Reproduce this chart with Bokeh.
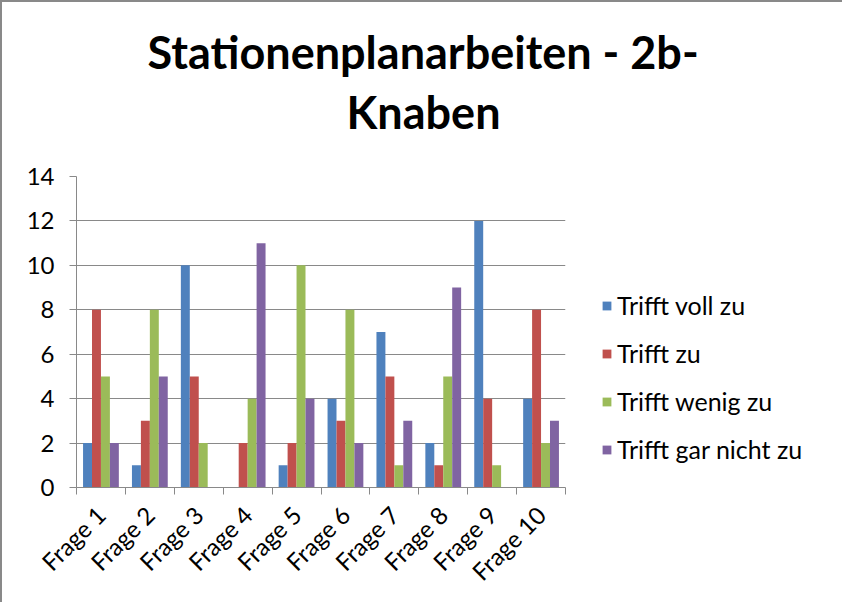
import numpy as np
from math import pi
from bokeh.plotting import figure
from bokeh.models import (Range1d, FixedTicker, Legend, LegendItem, Title,
                          ColumnDataSource)
from bokeh.transform import dodge
from bokeh.embed import file_html
from bokeh.resources import INLINE

# ---- data ----
categories = ["Frage 1", "Frage 2", "Frage 3", "Frage 4", "Frage 5",
              "Frage 6", "Frage 7", "Frage 8", "Frage 9", "Frage 10"]
series_names = ["Trifft voll zu", "Trifft zu", "Trifft wenig zu", "Trifft gar nicht zu"]
trifft_voll_zu = [2, 1, 10, 0, 1, 4, 7, 2, 12, 4]
trifft_zu = [8, 3, 5, 2, 2, 3, 5, 1, 4, 8]
trifft_wenig_zu = [5, 8, 2, 4, 10, 8, 1, 5, 1, 2]
trifft_gar_nicht_zu = [2, 5, 0, 11, 4, 2, 3, 9, 0, 3]
y_ticks = [0, 2, 4, 6, 8, 10, 12, 14]
title_line1 = "Stationenplanarbeiten - 2b-"
title_line2 = "Knaben"

colors = ["#4F81BD", "#C0504D", "#9BBB59", "#8064A2"]
FONT = "Lato"
GRAY = "#898989"

x = list(range(len(categories)))
src = ColumnDataSource(dict(x=x, s0=trifft_voll_zu, s1=trifft_zu,
                            s2=trifft_wenig_zu, s3=trifft_gar_nicht_zu))

p = figure(frame_width=489, frame_height=311, output_backend="svg",
           toolbar_location=None, title=None,
           x_range=Range1d(-0.5, len(categories) - 0.5),
           y_range=Range1d(0, 14),
           min_border_left=74, min_border_right=273,
           min_border_top=174, min_border_bottom=115)
p.styles = {"border-top": "2px solid " + GRAY,
            "border-left": "2px solid " + GRAY,
            "border-right": "2px solid " + GRAY}

p.outline_line_color = None
p.background_fill_color = "white"
p.border_fill_color = "white"

bw = 0.183
offsets = [-1.5 * bw, -0.5 * bw, 0.5 * bw, 1.5 * bw]
renderers = []
for i, col in enumerate(["s0", "s1", "s2", "s3"]):
    r = p.vbar(x=dodge("x", offsets[i], range=p.x_range), top=col, width=bw,
               bottom=0, source=src, fill_color=colors[i], line_color=None)
    renderers.append(r)

# y axis
yax = p.yaxis[0]
yax.ticker = FixedTicker(ticks=y_ticks, minor_ticks=[])
yax.major_tick_out = 7
yax.major_tick_in = 0
yax.minor_tick_out = 0
yax.minor_tick_in = 0
yax.axis_line_color = GRAY
yax.major_tick_line_color = GRAY
yax.major_label_text_font = FONT
yax.major_label_text_font_size = "24px"
yax.major_label_text_color = "black"
yax.major_label_standoff = 15

# x axis
xax = p.xaxis[0]
xax.ticker = FixedTicker(ticks=x, minor_ticks=[i - 0.5 for i in range(len(categories) + 1)])
xax.major_label_overrides = {i: c for i, c in zip(x, categories)}
xax.major_tick_out = 0
xax.major_tick_in = 0
xax.minor_tick_out = 7
xax.minor_tick_in = 0
xax.minor_tick_line_color = GRAY
xax.axis_line_color = GRAY
xax.major_label_orientation = pi / 4
xax.major_label_text_font = FONT
xax.major_label_text_font_size = "24px"
xax.major_label_text_color = "black"
xax.major_label_standoff = 16

p.xgrid.grid_line_color = None
p.ygrid.ticker = FixedTicker(ticks=y_ticks)
p.ygrid.grid_line_color = GRAY
p.ygrid.grid_line_width = 1

# titles
t2 = Title(text=title_line2, align="left", offset=270, text_font=FONT,
           text_font_size="45px", text_font_style="bold", text_color="black",
           standoff=75)
t1 = Title(text=title_line1, align="left", offset=71, text_font=FONT,
           text_font_size="45px", text_font_style="bold", text_color="black",
           standoff=-66)
p.add_layout(t2, "above")
p.add_layout(t1, "above")

# legend
items = [LegendItem(label=n, renderers=[r]) for n, r in zip(series_names, renderers)]
legend = Legend(items=items, location=(36, 23), orientation="vertical",
                glyph_width=11, glyph_height=11, label_standoff=5,
                label_text_font=FONT, label_text_font_size="25px",
                label_text_color="black", spacing=18, padding=0, margin=0,
                border_line_color=None, background_fill_alpha=0)
p.add_layout(legend, "right")

open("out.html", "w").write(file_html(p, INLINE))
